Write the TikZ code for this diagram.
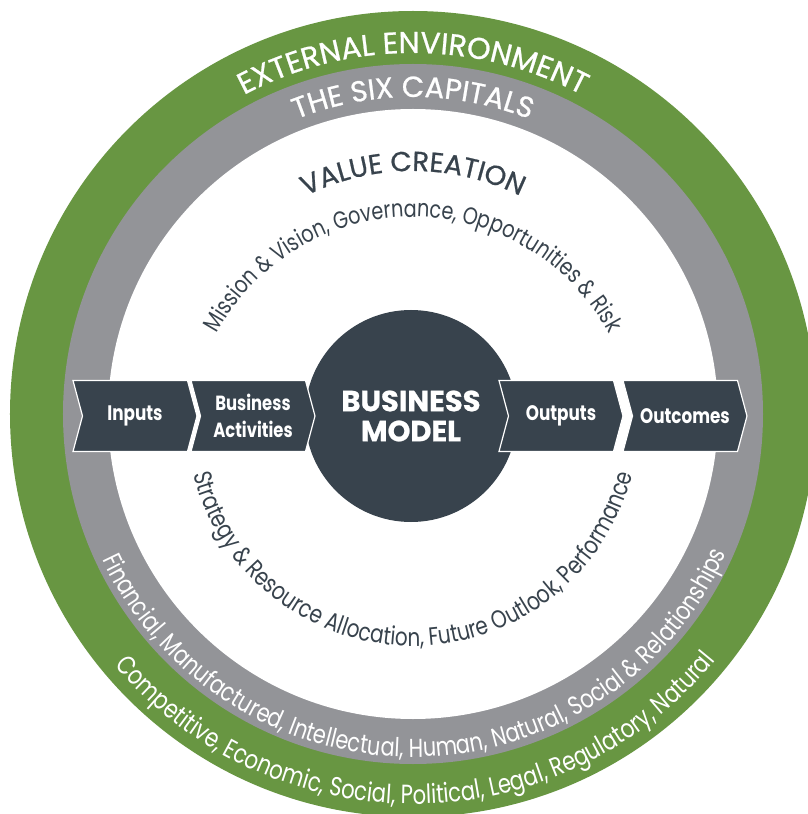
\documentclass[tikz,border=0pt]{standalone}
\usepackage{fontspec}
\setmainfont{Poppins}[FakeStretch=0.8]
\newfontfamily\capsfont{Poppins}[FakeBold=0.8]
\usepackage{tikz}
\usetikzlibrary{decorations.text}
\usetikzlibrary{shapes.symbols}
\definecolor{myGreen}{RGB}{104,150,66}
\definecolor{myGray}{RGB}{147,148,152}
\definecolor{myDark}{RGB}{56,67,77}

\begin{document}
\begin{tikzpicture}[x=1pt,y=1pt,
	every node/.style={
		font=\bfseries\fontsize{21}{26}\selectfont,
		text=white,
		align=center,
	},
	chevron/.style={shape=signal, signal from=west, signal to=east,
		signal pointer angle=150, fill=myDark, draw=white, line width=1.2pt,
		minimum width=124pt, minimum height=71pt, inner sep=0pt},
	]
	% fix the canvas
	\useasboundingbox (-413,-400) rectangle (395,414);
	\clip (-413,-400) rectangle (395,414);
	
	% draw rings
	\fill[myGreen] (0,0) circle[radius=403pt];
	\fill[myGray] (0,0) circle[radius=350pt];
	\fill[white] (0,0) circle[radius=305pt];
	
	% draw business model
	\node[circle, fill=myDark, minimum size=212pt, inner sep=0pt,
		font=\capsfont\bfseries\fontsize{29}{30}\selectfont] (model) at (-2,-2) {BUSINESS\\MODEL};
	
	% draw chevrons
	\node[chevron] (inputs) at (-278,-2) {Inputs};
	\node[chevron, font=\bfseries\fontsize{20.5}{27}\selectfont] (activities) at (-160,-2) {Business\\Activities};
	\node[chevron] (outputs) at (148,-2) {Outputs};
	\node[chevron] (outcomes) at (272,-2) {Outcomes};
	
	% curved labels on top
	\path[decorate, decoration={text along path, text align=center, text color=white,
		text={|\capsfont\fontsize{30}{30}\selectfont|EXTERNAL ENVIRONMENT}}]
		(170:361pt) arc[start angle=170, end angle=10, radius=361pt];
	\path[decorate, decoration={text along path, text align=center, text color=white,
		text={|\capsfont\fontsize{29}{29}\selectfont|THE SIX CAPITALS}}]
		(170:317pt) arc[start angle=170, end angle=10, radius=317pt];
	\path[decorate, decoration={text along path, text align=center, text color=myDark,
		text={|\capsfont\fontsize{27.5}{28}\selectfont|VALUE CREATION}}]
		(170:243pt) arc[start angle=170, end angle=10, radius=243pt];
	\path[decorate, decoration={text along path, text align=center, text color=myDark,
		text={|\fontsize{24}{24}\selectfont|Mission {\&} Vision, Governance, Opportunities {\&} Risk}}]
		(0,-26) ++(175:223pt) arc[start angle=175, end angle=5, radius=223pt];
	
	% curved labels at the bottom
	\path[decorate, decoration={text along path, text align=center, text color=myDark,
		text={|\fontsize{25}{25}\selectfont|Strategy {\&} Resource Allocation, Future Outlook, Performance}}]
		(0,-6) ++(185:226pt) arc[start angle=185, end angle=355, radius=226pt];
	\path[decorate, decoration={text along path, text align=center, text color=white,
		text={|\fontsize{26}{26}\selectfont|Financial, Manufactured, Intellectual, Human, Natural, Social {\&} Relationships}}]
		(195:343pt) arc[start angle=195, end angle=346, radius=343pt];
	\path[decorate, decoration={text along path, text align=center, text color=white,
		text={|\fontsize{26.4}{26}\selectfont|Competitive, Economic, Social, Political, Legal, Regulatory, Natural}}]
		(205:390pt) arc[start angle=205, end angle=336, radius=390pt];
\end{tikzpicture}
\end{document}
